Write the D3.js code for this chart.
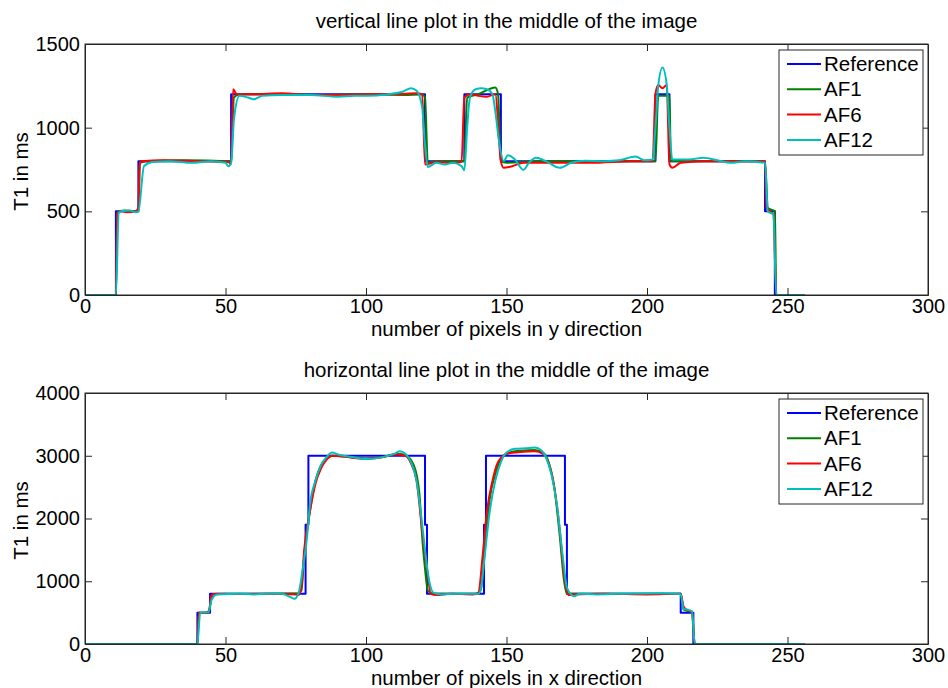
<!DOCTYPE html>
<html>
  <head>
    <meta http-equiv="Content-Type" content="text/html;charset=utf-8"/>
    <title>T1 line plots</title>
    <script src="https://d3js.org/d3.v7.min.js"></script>
    <style>
      body { margin: 0; background: #fff; }
      svg text { font-family: Arial, "Liberation Sans", sans-serif; fill: #000; }
    </style>
  </head>
  <body>
    <div id="content"></div>
    <script type="text/javascript">

        // series names + colours (matlab defaults)
        const seriesNames = ['Reference', 'AF1', 'AF6', 'AF12']
        const seriesColors = ['#0000ff', '#008000', '#ff0000', '#00bfbf']

        const xTicks = [0, 50, 100, 150, 200, 250, 300]
        const topYTicks = [0, 500, 1000, 1500]
        const botYTicks = [0, 1000, 2000, 3000, 4000]

        // ---- vertical line plot: [pixel, T1]
        const vertRef = [[0,0],[11,0],[11,500],[19,500],[19,800],[52,800],[52,1200],[121,1200],[121,800],[135,800],[135,1200],[148,1200],[148,800],[203,800],[203,1200],[208,1200],[208,800],[242,800],[242,500],[245.5,500],[245.5,0],[256,0]]
        const vertAF1 = [[0,0],[11,0],[11.5,495],[14,505],[19,500],[19.5,790],[22,800],[35,805],[51,800],[52,790],[53,1180],[55,1200],[70,1200],[85,1195],[100,1200],[115,1195],[120,1200],[121,1180],[122,790],[125,800],[135,800],[136,1180],[140,1200],[146,1240],[147,1200],[148,800],[150,790],[160,800],[200,800],[203,800],[204,1190],[208,1190],[208.5,800],[242,800],[243,520],[245.5,500],[246,0],[256,0]]
        const vertAF6 = [[0,0],[11,0],[11.5,490],[13,500],[15,495],[18,500],[19,520],[19.5,780],[20,800],[28,805],[40,800],[51,795],[52,780],[52.7,1230],[54,1200],[60,1200],[70,1205],[80,1195],[90,1195],[100,1200],[110,1200],[118,1205],[120,1200],[121,780],[125,795],[130,790],[134,795],[135,1180],[137,1200],[140,1190],[143,1185],[146,1200],[148,800],[149,760],[152,770],[156,790],[170,790],[180,790],[195,800],[202,800],[203,1200],[204,1255],[205.5,1235],[207,1255],[208,780],[209,760],[212,790],[220,800],[230,800],[242,800],[242.5,520],[245,480],[246,0],[256,0]]
        const vertAF12 = [[0,0],[11,0],[12,490],[13,500],[16,505],[18,495],[19,500],[21,770],[24,795],[30,800],[38,790],[45,800],[50,790],[51,770],[52,790],[53,1050],[55,1190],[58,1180],[60,1170],[63,1190],[70,1195],[80,1195],[90,1185],[96,1190],[100,1190],[108,1200],[113,1215],[116,1235],[118,1220],[120,1120],[121,900],[122,765],[125,790],[128,780],[131,790],[134,770],[135,745],[136,1000],[137,1180],[139,1230],[141,1235],[143,1230],[145,1200],[146,1100],[147.5,900],[149,800],[150.5,835],[153,810],[156,748],[158,790],[160.5,820],[164,800],[169,760],[173,790],[178,803],[185,800],[190,805],[196,828],[199,805],[202,810],[203,1000],[204,1250],[205.5,1360],[207,1260],[208,1000],[209,810],[215,810],[220,820],[225,805],[230,790],[235,800],[242,790],[243,500],[245,480],[246,0],[256,0]]

        // ---- horizontal line plot
        const horzRef = [[0,0],[40,0],[40,500],[44.5,500],[44.5,800],[78.5,800],[78.5,1900],[79.5,1900],[79.5,3000],[121,3000],[121,1900],[121.7,1900],[121.7,800],[142,800],[142,1900],[142.7,1900],[142.7,3000],[170.8,3000],[170.8,1900],[171.5,1900],[171.5,800],[212,800],[212,500],[216.5,500],[216.5,0],[256,0]]
        const horzAF1 = [[0,0],[40,0],[40.5,500],[43,500],[44,520],[45.5,790],[50,800],[60,800],[70,805],[76,805],[77,850],[78,1400],[80,2100],[82,2600],[84,2850],[86,2950],[88,3000],[92,2990],[100,2960],[106,2980],[111,3030],[114,3010],[117,2850],[119,2400],[120,1700],[121,1200],[122,850],[124,800],[135,800],[140,800],[141,900],[142.5,1600],[144,2300],[146,2700],[148,2950],[151,3050],[155,3080],[160,3090],[163,3050],[165,2900],[167,2500],[169,1700],[170.5,1000],[171.5,800],[180,800],[190,800],[200,800],[212,800],[213,550],[216,500],[217,0],[256,0]]
        const horzAF6 = [[0,0],[40,0],[40.5,500],[44,500],[45,780],[47,800],[55,795],[65,800],[75,790],[76,780],[77,900],[78,1500],[80,2100],[82,2550],[84,2800],[86,2940],[88,3000],[95,2970],[100,2950],[106,2980],[111,3020],[114,3000],[116,2880],[118,2600],[120,1800],[122,1100],[123,800],[125,780],[130,800],[138,790],[140,820],[141.5,1400],[143,2100],[145,2600],[147,2900],[150,3030],[155,3060],[160,3070],[163,3030],[165,2880],[167,2500],[169,1800],[170.5,1100],[172,780],[174,790],[185,800],[200,790],[212,800],[213,600],[214,550],[216,510],[217,0],[256,0]]
        const horzAF12 = [[0,0],[40,0],[41,500],[44,505],[45,700],[47,790],[55,800],[60,790],[65,800],[70,800],[73,750],[74.5,720],[76,810],[77.5,1200],[79,1700],[80,2200],[82,2600],[84,2850],[86,2980],[88,3050],[90,3020],[95,2980],[100,2950],[105,2970],[110,3030],[112,3070],[114,3030],[116,2900],[118,2600],[119.5,2100],[121,1500],[122.5,1000],[124,820],[127,790],[132,800],[138,800],[140,800],[141,900],[142,1300],[144,2100],[146,2600],[148,2900],[150,3050],[153,3110],[157,3120],[160,3130],[162,3100],[164,2980],[166,2700],[168,2200],[170,1400],[171.5,900],[173,790],[174,760],[176,800],[182,790],[190,800],[205,810],[211,800],[212,790],[213,560],[215,540],[216,520],[217,0],[256,0]]

        const width = 948, height = 688
        const left = 85, right = 928, plotH = 251
        const font = 'Arial, "Liberation Sans", sans-serif'

        const svg = d3.select('#content').append('svg')
            .attr('width', width).attr('height', height)

        function drawPanel(top, yMax, yTicks, series, title, xlabel) {
            const xScale = d3.scaleLinear().domain([0, 300]).range([left, right])
            const yScale = d3.scaleLinear().domain([0, yMax]).range([top + plotH, top])
            const g = svg.append('g')

            series.forEach((s, i) => {
                // reference is a step profile, the AF fits are smooth
                const line = d3.line()
                    .x(d => xScale(d[0])).y(d => yScale(d[1]))
                    .curve(i === 0 ? d3.curveLinear : d3.curveMonotoneX)
                g.append('path').datum(s)
                    .attr('d', line)
                    .attr('fill', 'none')
                    .attr('stroke', seriesColors[i])
                    .attr('stroke-width', 2)
                    .attr('stroke-linejoin', 'round')
            })

            // axes, ticks pointing inward like matlab
            const tl = 7
            const fmt = d3.format('d')
            const xb = g.append('g').attr('transform', 'translate(0,' + (top + plotH) + ')')
                .call(d3.axisBottom(xScale).tickValues(xTicks).tickFormat(fmt).tickSizeInner(-tl).tickSizeOuter(0).tickPadding(4))
            const xt = g.append('g').attr('transform', 'translate(0,' + top + ')')
                .call(d3.axisTop(xScale).tickValues(xTicks).tickSizeInner(-tl).tickSizeOuter(0).tickFormat(''))
            const yl = g.append('g').attr('transform', 'translate(' + left + ',0)')
                .call(d3.axisLeft(yScale).tickValues(yTicks).tickFormat(fmt).tickSizeInner(-tl).tickSizeOuter(0).tickPadding(5))
            const yr = g.append('g').attr('transform', 'translate(' + right + ',0)')
                .call(d3.axisRight(yScale).tickValues(yTicks).tickSizeInner(-tl).tickSizeOuter(0).tickFormat(''))

            ;[xb, xt, yl, yr].forEach(a => {
                a.select('.domain').attr('stroke', '#262626')
                a.selectAll('.tick line').attr('stroke', '#262626')
                a.selectAll('.tick text').attr('font-size', 20).attr('font-family', font).attr('fill', '#000')
            })
            // no inward ticks on the box corners
            g.selectAll('.tick').filter(d => d === 0 || d === 300 || d === yMax).select('line').remove()

            g.append('rect')
                .attr('x', left).attr('y', top)
                .attr('width', right - left).attr('height', plotH)
                .attr('fill', 'none').attr('stroke', '#262626').attr('stroke-width', 1)

            g.append('text')
                .attr('x', (left + right) / 2).attr('y', top - 16)
                .attr('text-anchor', 'middle').attr('font-size', 20.5)
                .text(title)

            g.append('text')
                .attr('x', (left + right) / 2).attr('y', top + plotH + 41)
                .attr('text-anchor', 'middle').attr('font-size', 20.5)
                .text(xlabel)

            g.append('text')
                .attr('transform', 'translate(28,' + (top + plotH / 2 + 2) + ') rotate(-90)')
                .attr('text-anchor', 'middle').attr('font-size', 20.5)
                .text('T1 in ms')

            // legend
            const lx = 779, ly = top + 6, lw = 144, lh = 105
            const leg = g.append('g')
            leg.append('rect')
                .attr('x', lx).attr('y', ly).attr('width', lw).attr('height', lh)
                .attr('fill', '#fff').attr('stroke', '#262626')
            seriesNames.forEach((name, i) => {
                const cy = ly + 14 + i * 25.3
                leg.append('line')
                    .attr('x1', lx + 8).attr('x2', lx + 42)
                    .attr('y1', cy).attr('y2', cy)
                    .attr('stroke', seriesColors[i]).attr('stroke-width', 2)
                leg.append('text')
                    .attr('x', lx + 45).attr('y', cy + 7)
                    .attr('font-size', 20.5)
                    .text(name)
            })
        }

        drawPanel(44, 1500, topYTicks, [vertRef, vertAF1, vertAF6, vertAF12],
            'vertical line plot in the middle of the image', 'number of pixels in y direction')
        drawPanel(393, 4000, botYTicks, [horzRef, horzAF1, horzAF6, horzAF12],
            'horizontal line plot in the middle of the image', 'number of pixels in x direction')

    </script>
  </body>
</html>
